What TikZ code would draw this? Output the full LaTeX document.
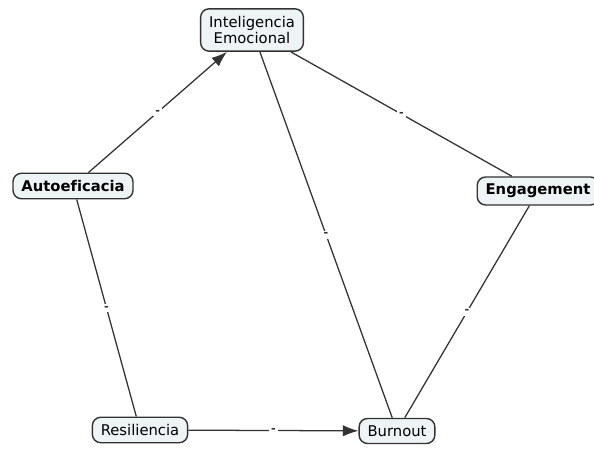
\documentclass[tikz,border=0pt]{standalone}
\usepackage{fontspec}
\setmainfont{DejaVu Sans}[Ligatures=NoCommon]
\usetikzlibrary{shapes,arrows,arrows.meta,calc}
\definecolor{boxfill}{HTML}{EEF3F6}
\definecolor{boxline}{HTML}{333333}
\tikzstyle{line} = [draw, -{Latex[length=11pt,width=8pt]}, line width=0.9pt, color=boxline]
\tikzstyle{link} = [draw, line width=0.9pt, color=boxline]
\tikzstyle{concept} = [draw=boxline, fill=boxfill, rectangle, rounded corners=6pt, text centered, line width=1pt, font=\fontsize{10.5}{12}\selectfont, inner xsep=6pt, inner ysep=5pt]
\tikzstyle{lbl} = [fill=white, inner sep=1.5pt, font=\footnotesize\bfseries, text=boxline]

\begin{document}
\begin{tikzpicture}[x=0.025cm, y=-0.025cm]
        \useasboundingbox (0,0) rectangle (594,451);
        \node[concept, align=center] (emo) at (252,30) {Inteligencia\\Emocional};
        \node[concept, font=\fontsize{10.5}{12}\selectfont\bfseries] (auto) at (73,186) {Autoeficacia};
        \node[concept, font=\fontsize{10.5}{12}\selectfont\bfseries] (eng) at (538,191) {Engagement};
        \node[concept] (res) at (140,430) {Resiliencia};
        \node[concept] (burn) at (397,431) {Burnout};
        \path[line] (auto) -- node[lbl] {-} (emo);
        \path[link] (emo) -- node[lbl] {-} (eng);
        \path[link] (emo) -- node[lbl] {-} (burn);
        \path[link] (eng) -- node[lbl] {-} (burn);
        \path[link] (auto) -- node[lbl] {-} (res);
        \path[line] (res) -- node[lbl] {-} (burn);
    \end{tikzpicture}
\end{document}
